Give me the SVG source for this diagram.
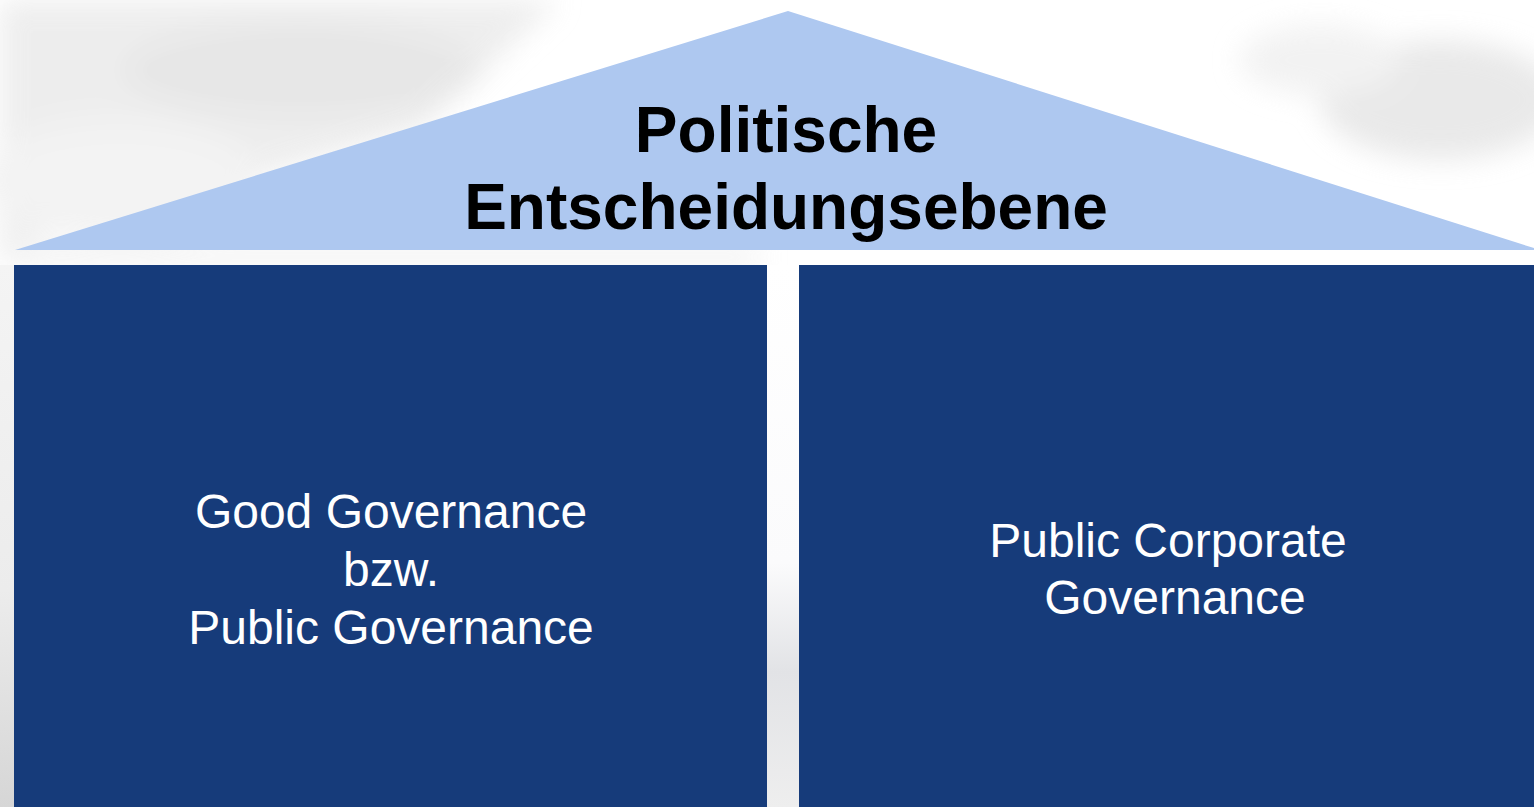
<svg xmlns="http://www.w3.org/2000/svg" width="1534" height="807" viewBox="0 0 1534 807">
  <defs>
    <filter id="soft" x="-20%" y="-20%" width="140%" height="140%">
      <feGaussianBlur stdDeviation="14"/>
    </filter>
    <linearGradient id="leftEdge" x1="0" y1="0" x2="0" y2="1">
      <stop offset="0" stop-color="#f4f4f4"/>
      <stop offset="0.6" stop-color="#ececec"/>
      <stop offset="1" stop-color="#d6d6d6"/>
    </linearGradient>
    <linearGradient id="gapStrip" x1="0" y1="0" x2="0" y2="1">
      <stop offset="0" stop-color="#ffffff"/>
      <stop offset="0.55" stop-color="#fbfbfc"/>
      <stop offset="0.75" stop-color="#e2e3e6"/>
      <stop offset="1" stop-color="#eeeeee"/>
    </linearGradient>
    <style>
      .roof { fill: #aec8f0; }
      .pillar { fill: #163b7a; }
      .title { font-family: "Liberation Sans", Arial, sans-serif; font-weight: bold; font-size: 64px; fill: #000000; text-anchor: middle; }
      .label { font-family: "Liberation Sans", Arial, sans-serif; font-size: 48px; fill: #ffffff; text-anchor: middle; }
    </style>
  </defs>

  <!-- faded building backdrop -->
  <g id="backdrop">
    <rect x="0" y="0" width="1534" height="807" fill="#ffffff"/>
    <g filter="url(#soft)" opacity="0.75">
      <polygon points="0,0 560,0 420,130 0,250" fill="#e8e8e8"/>
      <ellipse cx="300" cy="70" rx="180" ry="50" fill="#e0e0e0"/>
      <ellipse cx="120" cy="180" rx="140" ry="60" fill="#efefef"/>
      <ellipse cx="1440" cy="100" rx="120" ry="60" fill="#e2e2e2"/>
      <ellipse cx="1320" cy="60" rx="80" ry="35" fill="#eeeeee"/>
      <rect x="0" y="248" width="760" height="18" fill="#ececec"/>
    </g>
    <rect x="0" y="265" width="14" height="542" fill="url(#leftEdge)"/>
    <rect x="767" y="265" width="32" height="542" fill="url(#gapStrip)"/>
  </g>

  <!-- roof -->
  <g id="roof">
    <polygon class="roof" points="788,11 1540,250 15,250"/>
    <text class="title" x="786" y="152">Politische</text>
    <text class="title" x="786" y="229">Entscheidungsebene</text>
  </g>

  <!-- left pillar -->
  <g id="pillar-public-governance">
    <rect class="pillar" x="14" y="265" width="753" height="542"/>
    <text class="label" x="391" y="528">Good Governance</text>
    <text class="label" x="391" y="586">bzw.</text>
    <text class="label" x="391" y="644">Public Governance</text>
  </g>

  <!-- right pillar -->
  <g id="pillar-public-corporate-governance">
    <rect class="pillar" x="799" y="265" width="735" height="542"/>
    <text class="label" x="1168" y="557">Public Corporate</text>
    <text class="label" x="1175" y="614">Governance</text>
  </g>

  <g id="connectors"/>
</svg>
